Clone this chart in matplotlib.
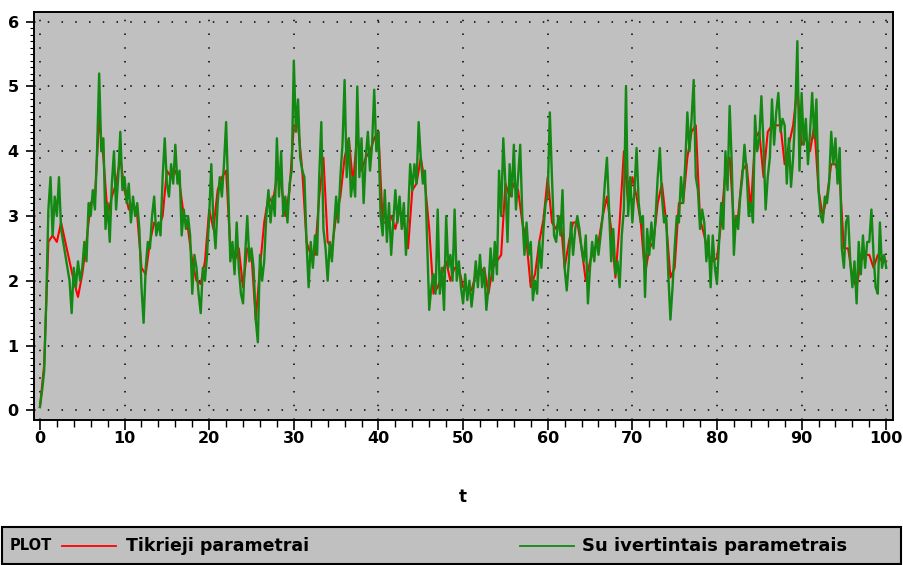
import numpy as np
import matplotlib
matplotlib.use('Agg')
import matplotlib.pyplot as plt
from matplotlib.patches import Rectangle
from matplotlib.lines import Line2D

# estimated parameters (green), t step 0.25
t_green = np.arange(0, 100.01, 0.25)
green = [
    0.05, 0.3, 0.6, 1.7, 3.1, 3.6, 2.7, 3.3,
    3.0, 3.6, 2.8, 2.6, 2.4, 2.2, 2.0, 1.5,
    2.2, 1.9, 2.3, 2.0, 2.2, 2.6, 2.3, 3.2,
    3.0, 3.4, 3.1, 4.0, 5.2, 4.0, 4.2, 2.8,
    3.2, 2.6, 3.5, 4.0, 3.1, 3.6, 4.3, 3.4,
    3.6, 3.2, 3.5, 2.9, 3.3, 3.0, 3.2, 2.8,
    1.9, 1.35, 2.2, 2.6, 2.5, 3.0, 3.3, 2.7,
    2.9, 2.7, 3.6, 4.2, 3.5, 3.3, 3.8, 3.5,
    4.1, 3.5, 3.7, 2.7, 3.1, 2.8, 3.0, 2.7,
    1.8, 2.4, 2.2, 1.8, 1.5, 2.2, 2.0, 2.4,
    3.0, 3.8, 2.9, 2.5, 3.2, 3.6, 3.3, 3.8,
    4.45, 3.4, 2.3, 2.6, 2.1, 2.9, 2.2, 1.8,
    1.65, 2.4, 3.0, 2.3, 2.5, 2.2, 1.4, 1.05,
    2.4, 2.0, 2.3, 3.0, 3.4, 2.9, 3.3, 3.0,
    4.2, 3.3, 4.0, 3.0, 3.3, 2.9, 3.5, 3.7,
    5.4, 4.3, 4.8, 3.9, 3.7, 3.6, 2.6, 1.9,
    2.6, 2.2, 2.7, 2.4, 3.6, 4.45, 2.8, 2.5,
    2.0, 2.6, 2.3, 2.8, 3.3, 2.9, 3.6, 4.1,
    5.1, 3.6, 4.2, 3.3, 3.6, 3.3, 5.0, 3.6,
    4.2, 3.2, 3.9, 4.3, 3.7, 4.1, 4.95, 4.0,
    4.3, 3.0, 2.7, 3.4, 2.6, 3.2, 2.4, 2.9,
    3.4, 2.9, 3.3, 2.8, 3.2, 2.4, 3.0, 3.8,
    3.4, 3.8, 3.5, 4.45, 3.9, 3.5, 3.7, 2.6,
    1.55, 1.9, 2.1, 1.8, 3.1, 1.8, 2.2, 1.55,
    3.0, 2.2, 2.4, 2.0, 3.1, 2.0, 2.3, 1.9,
    1.65, 2.1, 1.7, 2.0, 1.6, 1.9, 2.3, 1.9,
    2.4, 1.9, 2.2, 1.55, 1.9, 2.5, 2.0, 2.6,
    2.1, 3.7, 3.0, 4.2, 3.5, 2.6, 3.8, 3.3,
    4.1, 3.1, 3.6, 4.1, 3.0, 2.4, 2.9, 2.4,
    2.6, 1.7, 2.0, 1.8, 2.6, 2.2, 2.8, 3.2,
    3.3, 4.6, 3.6, 2.7, 2.6, 3.0, 2.7, 3.4,
    2.2, 1.85, 2.3, 2.9, 2.4, 2.8, 3.0, 2.8,
    2.5, 2.3, 2.7, 1.65, 2.2, 2.6, 2.3, 2.7,
    2.4, 2.7, 3.0, 3.5, 3.9, 3.1, 2.3, 2.8,
    2.1, 2.3, 1.9, 2.7, 3.1, 5.0, 3.0, 3.6,
    2.9, 3.4, 4.05, 3.2, 2.9, 3.0, 1.75, 2.8,
    2.4, 2.9, 2.5, 3.0, 3.6, 4.05, 3.3, 2.9,
    3.0, 2.1, 1.4, 1.9, 2.5, 3.0, 2.9, 3.6,
    3.2, 3.8, 4.6, 4.0, 4.5, 5.1, 3.6, 3.4,
    2.8, 3.1, 2.9, 2.3, 2.7, 1.9, 2.7, 2.2,
    1.95, 2.6, 3.2, 2.8, 4.0, 3.4, 4.7, 3.8,
    2.4, 3.0, 2.8, 3.3, 3.6, 4.1, 3.7, 3.0,
    3.2, 2.9, 4.55, 4.0, 4.2, 4.85, 4.1, 3.1,
    3.6, 3.9, 4.8, 4.1, 4.6, 4.9, 4.3, 4.5,
    4.4, 3.5, 4.2, 3.45, 3.9, 4.6, 5.7, 3.7,
    4.9, 4.1, 4.5, 3.8, 4.3, 4.9, 4.2, 4.8,
    3.4, 3.0, 2.9, 3.3, 3.2, 3.5, 4.3, 3.8,
    4.2, 3.5, 4.05, 2.5, 2.2, 2.9, 3.0, 2.3,
    1.9, 2.3, 1.65, 2.6, 2.1, 2.7, 2.2, 2.6,
    2.6, 3.1, 2.4, 1.9, 1.8, 2.9, 2.2, 2.4,
    2.2,
]

# true parameters (red), t step 0.5
t_red = np.arange(0, 100.01, 0.5)
red = [
    0.05, 0.7, 2.6, 2.7, 2.6, 2.9, 2.6, 2.3, 2.0, 1.75,
    2.1, 2.6, 3.2, 3.3, 4.5, 3.9, 3.0, 3.3, 3.5, 3.9,
    3.4, 3.1, 3.2, 3.0, 2.2, 2.1, 2.6, 2.9, 2.8, 3.0,
    3.7, 3.6, 3.7, 3.5, 3.0, 2.8, 2.3, 2.0, 1.95, 2.3,
    3.1, 2.8, 3.4, 3.6, 3.7, 2.5, 2.3, 2.5, 1.9, 2.5,
    2.4, 1.4, 2.2, 2.9, 3.3, 3.2, 3.6, 3.5, 3.0, 3.4,
    4.4, 4.4, 3.7, 2.6, 2.4, 2.4, 3.3, 3.9, 2.6, 2.5,
    3.0, 3.3, 3.9, 4.2, 3.5, 4.3, 3.7, 3.9, 4.0, 4.2,
    4.3, 2.9, 2.9, 3.0, 2.8, 3.1, 2.9, 2.5, 3.4, 3.5,
    3.9, 3.5, 2.8, 1.8, 1.9, 2.1, 2.3, 2.0, 2.2, 2.2,
    1.9, 1.85, 1.85, 2.1, 2.1, 2.2, 1.8, 2.2, 2.3, 2.4,
    3.5, 3.3, 3.5, 3.4, 2.9, 2.6, 1.9, 2.1, 2.6, 2.95,
    3.6, 2.9, 2.8, 3.0, 2.2, 2.6, 2.9, 2.9, 2.5, 2.0,
    2.3, 2.5, 2.6, 3.0, 3.3, 2.8, 2.05, 2.9, 4.0, 3.2,
    3.6, 3.3, 2.9, 2.1, 2.5, 2.6, 3.2, 3.5, 2.9, 2.05,
    2.2, 3.2, 3.2, 3.9, 4.3, 4.4, 2.95, 2.7, 2.4, 2.3,
    2.35, 2.9, 3.7, 3.9, 2.9, 3.0, 3.7, 3.8, 3.1, 4.2,
    4.3, 3.6, 4.3, 4.4, 4.4, 4.4, 3.8, 4.1, 4.4, 5.0,
    4.1, 4.2, 4.0, 4.4, 3.4, 3.0, 3.3, 3.8, 3.8, 3.6,
    2.5, 2.5, 2.05, 1.9, 2.3, 2.4, 2.4, 2.2, 2.4, 2.3,
    2.3,
]

x_ticks = list(range(0, 101, 10))
y_ticks = [0, 1, 2, 3, 4, 5, 6]
label_red = 'Tikrieji parametrai'
label_green = 'Su ivertintais parametrais'

RED = '#ff0000'
GREEN = '#138813'
GREY = '#c0c0c0'

fig = plt.figure(figsize=(9.04, 5.65), dpi=100)
ax = fig.add_axes([34/904, 1 - 420/565, (893 - 34)/904, (420 - 12)/565])
ax.set_facecolor(GREY)

ax.plot(t_red, red, color=RED, lw=1.5, zorder=2)
ax.plot(t_green, green, color=GREEN, lw=1.7, zorder=3)

ax.set_xlim(-0.7, 100.8)
ax.set_ylim(-0.15, 6.15)

ax.set_xticks(x_ticks)
ax.set_xticks(np.arange(0, 101, 2), minor=True)
ax.set_yticks(y_ticks)
ax.set_yticks(np.arange(0, 6.01, 0.1), minor=True)
ax.tick_params(axis='both', which='major', direction='out', width=1.2,
               labelsize=11.5, colors='black')
ax.tick_params(axis='x', which='major', length=7, pad=1)
ax.tick_params(axis='x', which='minor', length=5, width=1)
ax.tick_params(axis='y', which='major', length=6, pad=5)
ax.tick_params(axis='y', which='minor', length=3, width=0.8)
for lab in ax.get_xticklabels() + ax.get_yticklabels():
    lab.set_fontweight('bold')

ax.grid(True, which='major', color='black', linestyle=(0, (1, 8)), lw=1.1)
ax.set_axisbelow(True)
for s in ax.spines.values():
    s.set_linewidth(1.4)

fig.text(463/904, 1 - 497/565, 't', ha='center', va='center',
         fontsize=12, fontweight='bold')

# legend box at the bottom
fig.patches.append(Rectangle((0.002, 0.002), 0.995, 0.066, transform=fig.transFigure,
                             facecolor=GREY, edgecolor='black', lw=1.5))
ly = 1 - 546/565
fig.text(10/904, ly, 'PLOT', ha='left', va='center', fontsize=10.5, fontweight='bold')
fig.lines.append(Line2D([62/904, 116/904], [ly, ly], transform=fig.transFigure,
                        color=RED, lw=1.3))
fig.text(126/904, ly, label_red, ha='left', va='center', fontsize=12.5,
         fontweight='bold')
fig.lines.append(Line2D([520/904, 574/904], [ly, ly], transform=fig.transFigure,
                        color=GREEN, lw=1.3))
fig.text(582/904, ly, label_green, ha='left', va='center', fontsize=13,
         fontweight='bold')

fig.savefig('out.png', dpi=100)
